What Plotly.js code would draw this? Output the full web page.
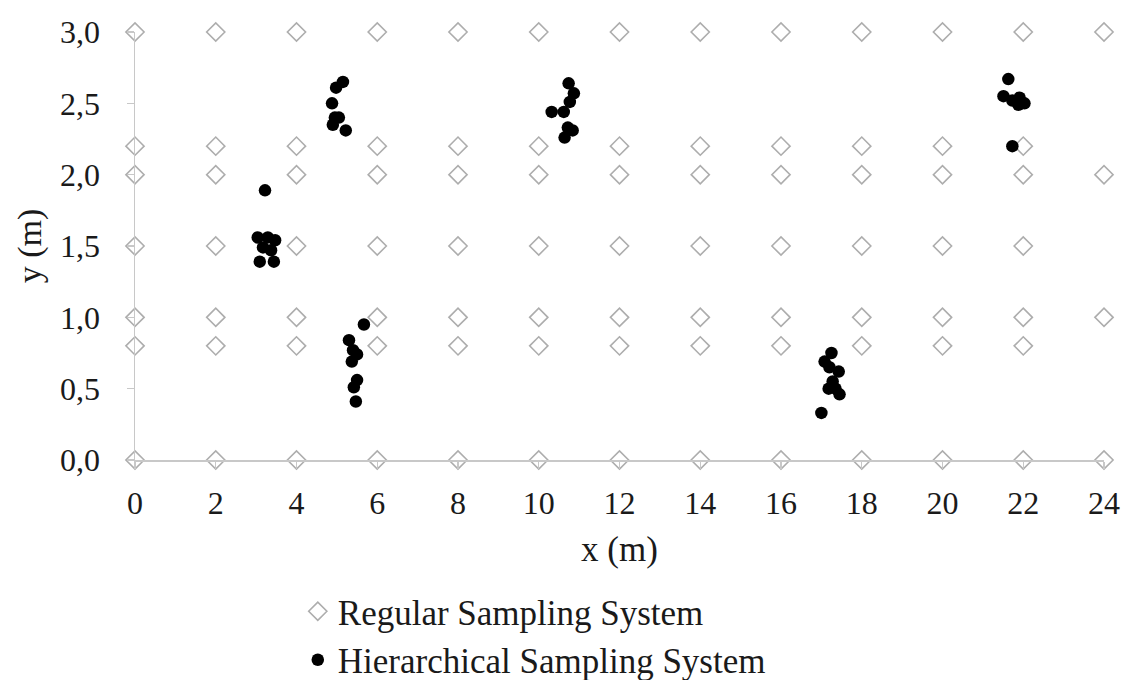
<!DOCTYPE html>
<html>
<head>
<meta charset="utf-8">
<script src="https://cdn.plot.ly/plotly-3.0.1.min.js"></script>
<style>html,body{margin:0;padding:0;background:#fff;}#chart{width:1126px;height:680px;}</style>
</head>
<body>
<div id="chart"></div>
<script>
// Regular sampling grid: one row per y level, with the x positions present on that row
const regRowY = [3.0, 2.2, 2.0, 1.5, 1.0, 0.8, 0.0];
const regRowX = [
  [0, 2, 4, 6, 8, 10, 12, 14, 16, 18, 20, 22, 24],
  [0, 2, 4, 6, 8, 10, 12, 14, 16, 18, 20, 22],
  [0, 2, 4, 6, 8, 10, 12, 14, 16, 18, 20, 22, 24],
  [0, 2, 4, 6, 8, 10, 12, 14, 16, 18, 20, 22],
  [0, 2, 4, 6, 8, 10, 12, 14, 16, 18, 20, 22, 24],
  [0, 2, 4, 6, 8, 10, 12, 14, 16, 18, 20, 22],
  [0, 2, 4, 6, 8, 10, 12, 14, 16, 18, 20, 22, 24]
];

// Hierarchical sampling points
const hierX = [
  3.22, 3.04, 3.29, 3.47, 3.17, 3.37, 3.09, 3.44,
  5.15, 4.98, 4.88, 4.95, 5.05, 4.90, 5.22,
  5.67, 5.30, 5.40, 5.50, 5.37, 5.50, 5.42, 5.47,
  10.74, 10.87, 10.77, 10.32, 10.62, 10.72, 10.84, 10.64,
  17.25, 17.08, 17.20, 17.43, 17.28, 17.18, 17.35, 17.45, 17.00,
  21.63, 21.51, 21.73, 21.91, 21.88, 22.03, 21.73
];
const hierY = [
  1.89, 1.56, 1.56, 1.54, 1.49, 1.47, 1.39, 1.39,
  2.65, 2.61, 2.50, 2.40, 2.40, 2.35, 2.31,
  0.95, 0.84, 0.77, 0.74, 0.69, 0.56, 0.51, 0.41,
  2.64, 2.57, 2.51, 2.44, 2.44, 2.33, 2.31, 2.26,
  0.75, 0.69, 0.65, 0.62, 0.55, 0.50, 0.50, 0.46, 0.33,
  2.67, 2.55, 2.52, 2.54, 2.49, 2.50, 2.20
];

const xTicks = [0, 2, 4, 6, 8, 10, 12, 14, 16, 18, 20, 22, 24];
const yTicks = [0, 0.5, 1.0, 1.5, 2.0, 2.5, 3.0];

const regX = [], regY = [];
regRowY.forEach((yv, i) => regRowX[i].forEach(xv => { regX.push(xv); regY.push(yv); }));

const FONT = 'Liberation Serif, Times New Roman, serif';
const AXC = '#c8c8c8';

const traces = [
  {
    type: 'scatter', mode: 'markers', name: 'Regular Sampling System',
    x: regX, y: regY, cliponaxis: false,
    marker: {symbol: 'diamond-open', size: 14, color: '#adadad', line: {width: 1.6, color: '#adadad'}}
  },
  {
    type: 'scatter', mode: 'markers', name: 'Hierarchical Sampling System',
    x: hierX, y: hierY, cliponaxis: false,
    marker: {symbol: 'circle', size: 12.5, color: '#000000'}
  }
];

const layout = {
  width: 1126, height: 680,
  margin: {l: 135, r: 22, t: 32, b: 220, autoexpand: false},
  paper_bgcolor: '#ffffff', plot_bgcolor: '#ffffff',
  separators: ', ',
  font: {family: FONT, size: 32, color: '#1a1a1a'},
  showlegend: true,
  legend: {
    x: 0.168, xanchor: 'left', y: -0.285, yanchor: 'top',
    orientation: 'v', font: {family: FONT, size: 35, color: '#1a1a1a'},
    tracegroupgap: 0, itemwidth: 30, bgcolor: 'rgba(0,0,0,0)'
  },
  xaxis: {
    range: [0, 24], tickmode: 'array', tickvals: xTicks, automargin: false,
    showline: true, linecolor: AXC, linewidth: 1.5,
    ticks: 'outside', ticklen: 7, tickcolor: AXC, tickwidth: 1.2,
    showgrid: false, zeroline: false,
    tickfont: {family: FONT, size: 32, color: '#1a1a1a'},
    ticklabelstandoff: 7,
    title: {text: 'x (m)', font: {family: FONT, size: 35, color: '#1a1a1a'}, standoff: 16}
  },
  yaxis: {
    range: [0, 3], tickmode: 'array', tickvals: yTicks, tickformat: '.1f', automargin: false,
    showline: true, linecolor: AXC, linewidth: 1.5,
    ticks: 'outside', ticklen: 7, tickcolor: AXC, tickwidth: 1.2,
    showgrid: false, zeroline: false,
    tickfont: {family: FONT, size: 32, color: '#1a1a1a'},
    ticklabelstandoff: 20,
    title: {text: 'y (m)', font: {family: FONT, size: 34, color: '#1a1a1a'}, standoff: 8}
  }
};

Plotly.newPlot('chart', traces, layout, {displayModeBar: false, staticPlot: true});
</script>
</body>
</html>
